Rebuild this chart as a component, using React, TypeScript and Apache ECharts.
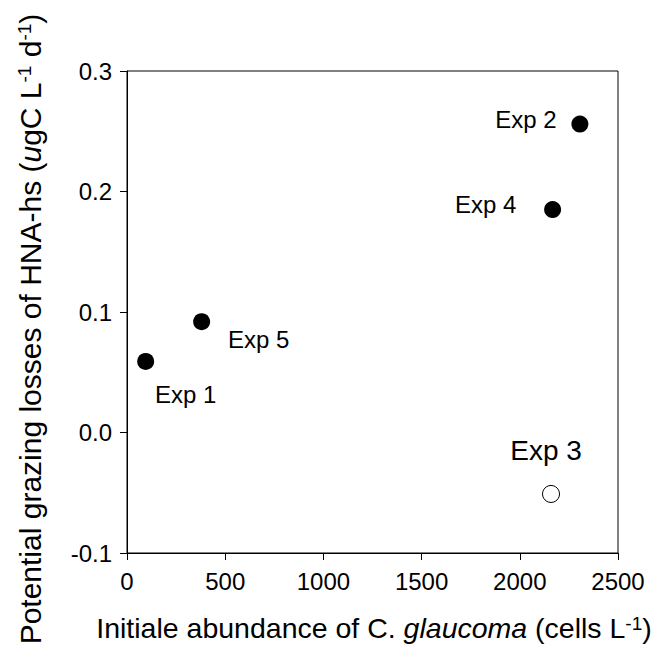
import React, { useEffect, useRef } from 'react';
import * as echarts from 'echarts';

// ---- data ----
const expNames = ['Exp 1', 'Exp 2', 'Exp 3', 'Exp 4', 'Exp 5'];
const abundance = [95, 2306, 2159, 2167, 380];
const grazing = [0.059, 0.256, -0.051, 0.185, 0.092];
const hollow = [false, false, true, false, false];
const xRange = [0, 2500];
const yRange = [-0.1, 0.3];

// ---- label layout (styling) ----
const labelOffsets: number[][] = [
  [40, 33],
  [-54, -5],
  [-5, -43],
  [-67, -5],
  [57, 18],
];
const labelSizes = [24, 24, 28, 24, 24];

const FONT = '"Liberation Sans", Arial, sans-serif';

export default function App() {
  const ref = useRef<HTMLDivElement>(null);
  useEffect(() => {
    if (!ref.current) return;
    const chart = echarts.init(ref.current, null, { renderer: 'svg' });
    const data = abundance.map((x, i) => ({
      value: [x, grazing[i]],
      name: expNames[i],
      itemStyle: hollow[i]
        ? { color: '#fff', borderColor: '#000', borderWidth: 1, opacity: 1 }
        : { color: '#000', opacity: 1 },
      label: {
        show: true,
        formatter: expNames[i],
        position: 'inside',
        offset: labelOffsets[i],
        fontSize: labelSizes[i],
        fontFamily: FONT,
        color: '#000',
      },
    }));
    const mainX = { fontSize: 28.5, fontFamily: FONT, color: '#000' };
    const mainY = { fontSize: 30, fontFamily: FONT, color: '#000' };
    const sup = {
      fontSize: 19,
      lineHeight: 19,
      fontFamily: FONT,
      color: '#000',
      padding: [0, 0, 24, 0],
      verticalAlign: 'top',
    };
    chart.setOption({
      animation: false,
      backgroundColor: '#fff',
      grid: {
        left: 127,
        top: 71,
        width: 491,
        height: 482,
        show: true,
        borderColor: '#000',
        borderWidth: 1,
        backgroundColor: 'transparent',
      },
      xAxis: {
        type: 'value',
        min: xRange[0],
        max: xRange[1],
        interval: 500,
        axisLine: { show: true, onZero: false, lineStyle: { color: '#000', width: 1 } },
        axisTick: { show: true, inside: false, length: 7, lineStyle: { color: '#000' } },
        splitLine: { show: false },
        axisLabel: {
          fontSize: 24,
          fontFamily: FONT,
          color: '#000',
          margin: 16,
          formatter: (v: number) => String(v),
        },
      },
      yAxis: {
        type: 'value',
        min: yRange[0],
        max: yRange[1],
        interval: 0.1,
        axisLine: { show: true, onZero: false, lineStyle: { color: '#000', width: 1 } },
        axisTick: { show: true, inside: false, length: 7, lineStyle: { color: '#000' } },
        splitLine: { show: false },
        axisLabel: {
          fontSize: 24,
          fontFamily: FONT,
          color: '#000',
          margin: 15,
          formatter: (v: number) => v.toFixed(1),
        },
      },
      series: [
        {
          type: 'scatter',
          symbol: 'circle',
          symbolSize: 17,
          itemStyle: { opacity: 1 },
          data,
        },
      ],
      graphic: [
        {
          type: 'text',
          x: 374,
          y: 628,
          style: {
            text: '{m|Initiale abundance of C. }{i|glaucoma}{m| (cells L}{s|-1}{m|)}',
            align: 'center',
            verticalAlign: 'middle',
            rich: {
              m: mainX,
              i: { ...mainX, fontStyle: 'italic' },
              s: sup,
            },
          },
        },
        {
          type: 'text',
          x: 30,
          y: 329,
          rotation: Math.PI / 2,
          style: {
            text: '{m|Potential grazing losses of HNA-hs (}{i|u}{m|gC L}{s|-1}{m| d}{s|-1}{m|)}',
            align: 'center',
            verticalAlign: 'middle',
            rich: {
              m: mainY,
              i: { ...mainY, fontStyle: 'italic' },
              s: sup,
            },
          },
        },
      ],
    });
    return () => chart.dispose();
  }, []);
  return (
    <div
      ref={ref}
      style={{ position: 'fixed', left: 0, top: 0, width: 654, height: 652, background: '#fff' }}
    />
  );
}
